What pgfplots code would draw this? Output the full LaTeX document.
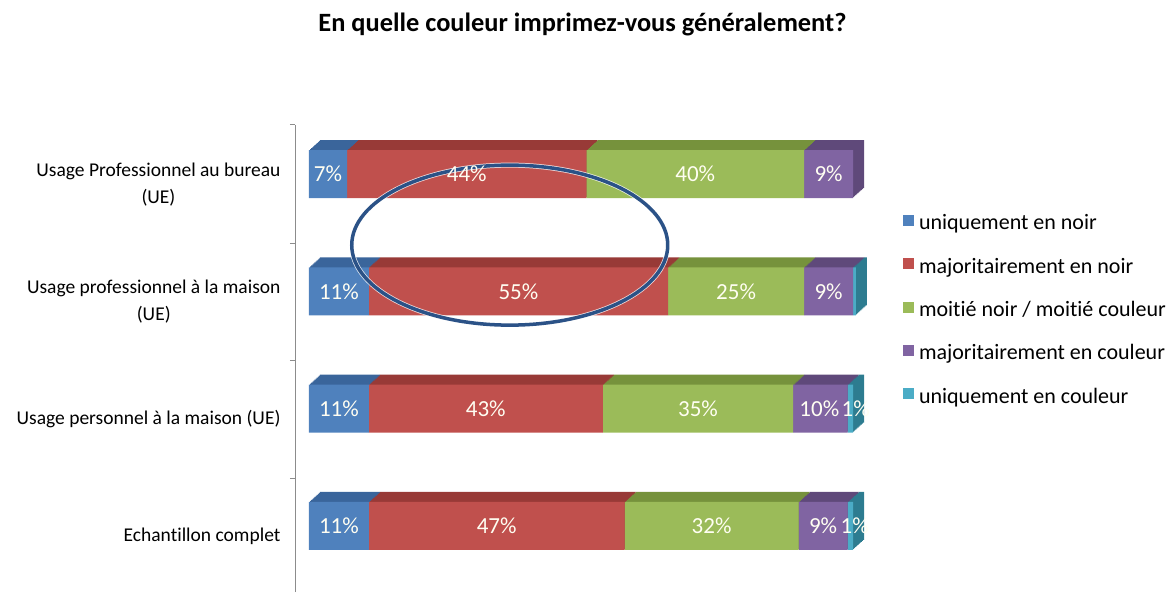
\documentclass[border=0pt]{standalone}
\usepackage{fontspec}
\setmainfont{Carlito}[Ligatures=NoCommon]
\usepackage{pgfplots}
\usepackage{pgfplotstable}
\pgfplotsset{compat=1.18}
\definecolor{cB}{HTML}{4F81BD}
\definecolor{cR}{HTML}{C0504D}
\definecolor{cG}{HTML}{9BBB59}
\definecolor{cP}{HTML}{8064A2}
\definecolor{cT}{HTML}{4BACC6}
\definecolor{cBt}{HTML}{3A659B}
\definecolor{cRt}{HTML}{983A37}
\definecolor{cGt}{HTML}{76923C}
\definecolor{cPt}{HTML}{5F497A}
\definecolor{cTt}{HTML}{2D7C90}
\definecolor{axisgray}{HTML}{8C8C8C}
\definecolor{ellc}{HTML}{2B5287}

\pgfplotstableread{
y bn mn mi mc uc
0 11 47 32 9 1
1 11 43 35 10 1
2 11 55 25 9 0.5
3 7 44 40 9 0
}\data

\pgfplotstableread{
x y label
5.5 0 11\%
34.5 0 47\%
74 0 32\%
94.5 0 9\%
100.3 0 1\%
5.5 1 11\%
32.5 1 43\%
71.5 1 35\%
93.8 1 10\%
100.5 1 1\%
5.5 2 11\%
38.5 2 55\%
78.5 2 25\%
95.5 2 9\%
3.5 3 7\%
29 3 44\%
71 3 40\%
95.5 3 9\%
}\labels

\pgfplotsset{
  base/.style={scale only axis, width=570pt, height=467pt,
    xmin=-2.57, xmax=102.2, ymin=-0.563, ymax=3.418, anchor=south west},
  bar3d/.style={base, xbar stacked, bar width=48pt},
}

\newcommand{\backbars}{%
  \addplot[fill=cBt, draw=none] table[x=bn, y=y] {\data};
  \addplot[fill=cRt, draw=none] table[x=mn, y=y] {\data};
  \addplot[fill=cGt, draw=none] table[x=mi, y=y] {\data};
  \addplot[fill=cPt, draw=none] table[x=mc, y=y] {\data};
  \addplot[fill=cTt, draw=none] table[x=uc, y=y] {\data};
}

\begin{document}
\begin{tikzpicture}
\path[use as bounding box] (0,0) rectangle (1169pt,592pt);

\node[anchor=base, font=\bfseries\fontsize{26.4}{30}\selectfont] at (582.5pt,560pt) {En quelle couleur imprimez-vous généralement?};

\foreach \k in {10,9,...,1}{
\begin{axis}[bar3d, hide axis, at={(295pt+\k*1.1pt,\k*1.0pt)}]
\backbars
\end{axis}
}

\begin{axis}[bar3d, at={(295pt,0pt)},
  axis x line=none, axis y line*=left,
  y axis line style={draw=axisgray, line width=1pt},
  ytick={-0.09,0.91,1.91,2.91},
  yticklabels={Echantillon complet, Usage personnel à la maison (UE), {Usage professionnel à la maison\\(UE)}, {Usage Professionnel au bureau\\(UE)}},
  major tick length=0pt,
  yticklabel style={font=\fontsize{19.5}{27}\selectfont, align=center, xshift=-11pt, text=black},
  extra y ticks={0.407,1.414,2.412,3.418},
  extra y tick labels={},
  extra y tick style={major tick length=5pt, tick align=outside, tick style={draw=axisgray, line width=1pt}},
  legend style={at={(axis description cs:1.0667,0.8073)}, anchor=north west, draw=none, fill=none,
    inner sep=0pt, outer sep=0pt, row sep=23.3pt, column sep=5pt,
    font=\fontsize{22}{26}\selectfont,
    nodes={inner sep=0pt, text height=15pt, text depth=5pt}},
  legend cell align=left,
  legend image code/.code={\fill[#1] (0pt,-1pt) rectangle (11pt,10pt);},
]
\addplot[fill=cB, draw=none] table[x=bn, y=y] {\data};
\addplot[fill=cR, draw=none] table[x=mn, y=y] {\data};
\addplot[fill=cG, draw=none] table[x=mi, y=y] {\data};
\addplot[fill=cP, draw=none] table[x=mc, y=y] {\data};
\addplot[fill=cT, draw=none] table[x=uc, y=y] {\data};
\legend{uniquement en noir, majoritairement en noir, moitié noir / moitié couleur, majoritairement en couleur, uniquement en couleur}
\end{axis}

\begin{axis}[base, hide axis, at={(295pt,0pt)}]
\addplot[draw=none, mark=none, nodes near coords, point meta=explicit symbolic,
  every node near coord/.append style={anchor=center, inner sep=0pt, text=white!95!yellow, font=\fontsize{23}{26}\selectfont}]
  table[x=x, y=y, meta=label] {\labels};
\draw[white, line width=5pt, opacity=0.8] (axis cs:36.9,2.394) ellipse [x radius=158pt, y radius=80pt];
\draw[ellc, line width=3.5pt] (axis cs:36.9,2.394) ellipse [x radius=158pt, y radius=80pt];
\end{axis}
\end{tikzpicture}
\end{document}
